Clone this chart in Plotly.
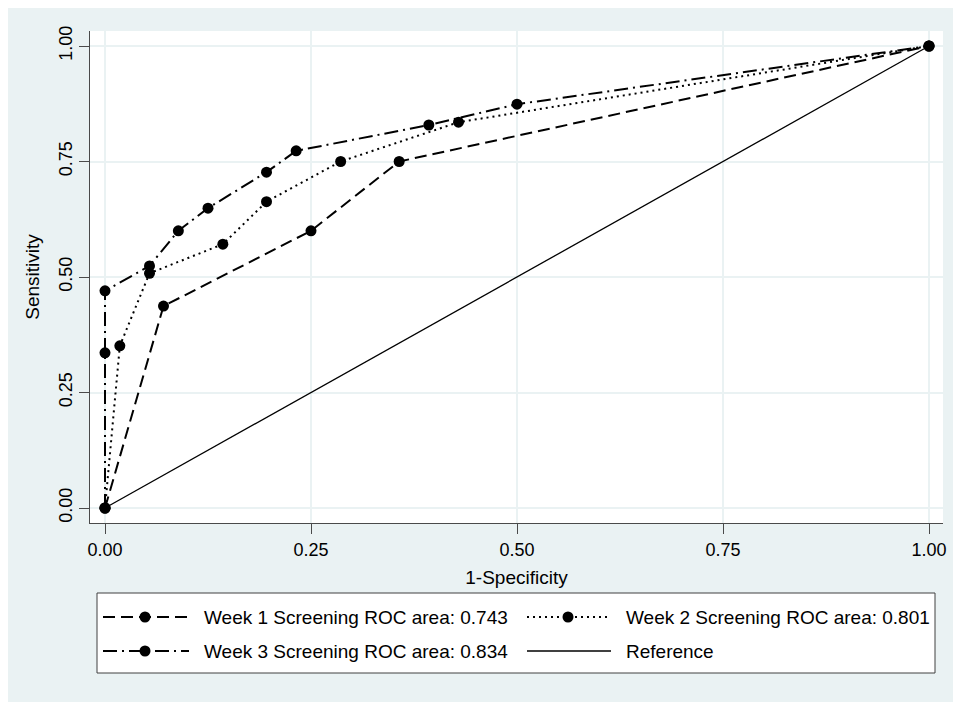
import plotly.graph_objects as go

# ---- data ----
week1_x = [0.0, 0.071, 0.250, 0.357, 1.0]
week1_y = [0.0, 0.437, 0.600, 0.750, 1.0]

week2_x = [0.0, 0.018, 0.054, 0.143, 0.196, 0.286, 0.429, 1.0]
week2_y = [0.0, 0.351, 0.508, 0.571, 0.663, 0.750, 0.835, 1.0]

week3_x = [0.0, 0.0, 0.0, 0.054, 0.089, 0.125, 0.196, 0.232, 0.393, 0.500, 1.0]
week3_y = [0.0, 0.336, 0.470, 0.524, 0.600, 0.649, 0.727, 0.773, 0.829, 0.874, 1.0]

ref_x = [0.0, 1.0]
ref_y = [0.0, 1.0]

tick_vals = [0.0, 0.25, 0.5, 0.75, 1.0]
tick_text = ["0.00", "0.25", "0.50", "0.75", "1.00"]

legend_labels = [
    "Week 1 Screening ROC area: 0.743",
    "Week 2 Screening ROC area: 0.801",
    "Week 3 Screening ROC area: 0.834",
    "Reference",
]

# ---- styles ----
FONT = "Liberation Sans, Arial, sans-serif"
BG = "#EAF2F3"
AXC = "#4a4a4a"
DASH1 = "12px,6px"
DASH2 = "2px,4px"
DASH3 = "14px,5px,2px,5px"
MS = 11

OFF = 8  # page body margin
W, H = 953, 694
ML, MT = 82, 23
PR, PB = 935, 515  # plot right / bottom in figure px
MR, MB = W - PR, H - PB
PW, PH = PR - ML, PB - MT


def px(X):  # page pixel -> paper
    return (X - OFF - ML) / PW


def py(Y):
    return (PB - (Y - OFF)) / PH


fig = go.Figure()

fig.add_trace(go.Scatter(x=ref_x, y=ref_y, mode="lines",
                         line=dict(color="black", width=1.3),
                         showlegend=False, hoverinfo="skip"))
fig.add_trace(go.Scatter(x=week1_x, y=week1_y, mode="lines+markers",
                         line=dict(color="black", width=2, dash=DASH1),
                         marker=dict(color="black", size=MS),
                         showlegend=False))
fig.add_trace(go.Scatter(x=week2_x, y=week2_y, mode="lines+markers",
                         line=dict(color="black", width=2, dash=DASH2),
                         marker=dict(color="black", size=MS),
                         showlegend=False))
fig.add_trace(go.Scatter(x=week3_x, y=week3_y, mode="lines+markers",
                         line=dict(color="black", width=2, dash=DASH3),
                         marker=dict(color="black", size=MS),
                         showlegend=False))

shapes = []
# legend box
shapes.append(dict(type="rect", xref="paper", yref="paper", layer="above",
                   x0=px(97), x1=px(935), y0=py(673), y1=py(593),
                   fillcolor="white", line=dict(color="#404040", width=1)))

# legend entries: (x_start, x_end, marker_x, text_x, row_y, dash, width, marker?)
entries = [
    (103, 189, 145, 202, 617, DASH1, 2, True),
    (527, 609, 568, 624, 617, DASH2, 2, True),
    (103, 189, 145, 202, 651, DASH3, 2, True),
    (527, 611, None, 624, 651, "solid", 1.3, False),
]
annotations = []
for (xa, xb, xm, xt, yr, dash, lw, has_m), lab in zip(entries, legend_labels):
    shapes.append(dict(type="line", xref="paper", yref="paper", layer="above",
                       x0=px(xa), x1=px(xb), y0=py(yr), y1=py(yr),
                       line=dict(color="black", width=lw, dash=dash)))
    if has_m:
        r = 5.5
        shapes.append(dict(type="circle", xref="paper", yref="paper", layer="above",
                           x0=px(xm - r), x1=px(xm + r), y0=py(yr + r), y1=py(yr - r),
                           fillcolor="black", line=dict(color="black", width=0)))
    annotations.append(dict(xref="paper", yref="paper", x=px(xt), y=py(yr),
                            xanchor="left", yanchor="middle", showarrow=False,
                            text=lab, font=dict(family=FONT, size=19, color="black")))

axis_common = dict(
    tickvals=tick_vals, ticktext=tick_text,
    showgrid=True, gridcolor=BG, gridwidth=2,
    zeroline=False, showline=True, linecolor=AXC, linewidth=1,
    ticks="outside", ticklen=10, tickcolor=AXC, tickwidth=1,
    tickfont=dict(family=FONT, size=18, color="black"),
)

fig.update_layout(
    width=W, height=H,
    margin=dict(l=ML, r=MR, t=MT, b=MB),
    paper_bgcolor=BG, plot_bgcolor="white",
    showlegend=False,
    shapes=shapes, annotations=annotations,
    xaxis=dict(range=[-15 / 824, 1 + 14 / 824],
               title=dict(text="1-Specificity", standoff=12,
                          font=dict(family=FONT, size=19, color="black")),
               **axis_common),
    yaxis=dict(range=[-15 / 462, 1 + 15 / 462], tickangle=-90,
               title=dict(text="Sensitivity", standoff=11,
                          font=dict(family=FONT, size=19, color="black")),
               **axis_common),
)

fig.write_html("out.html")
